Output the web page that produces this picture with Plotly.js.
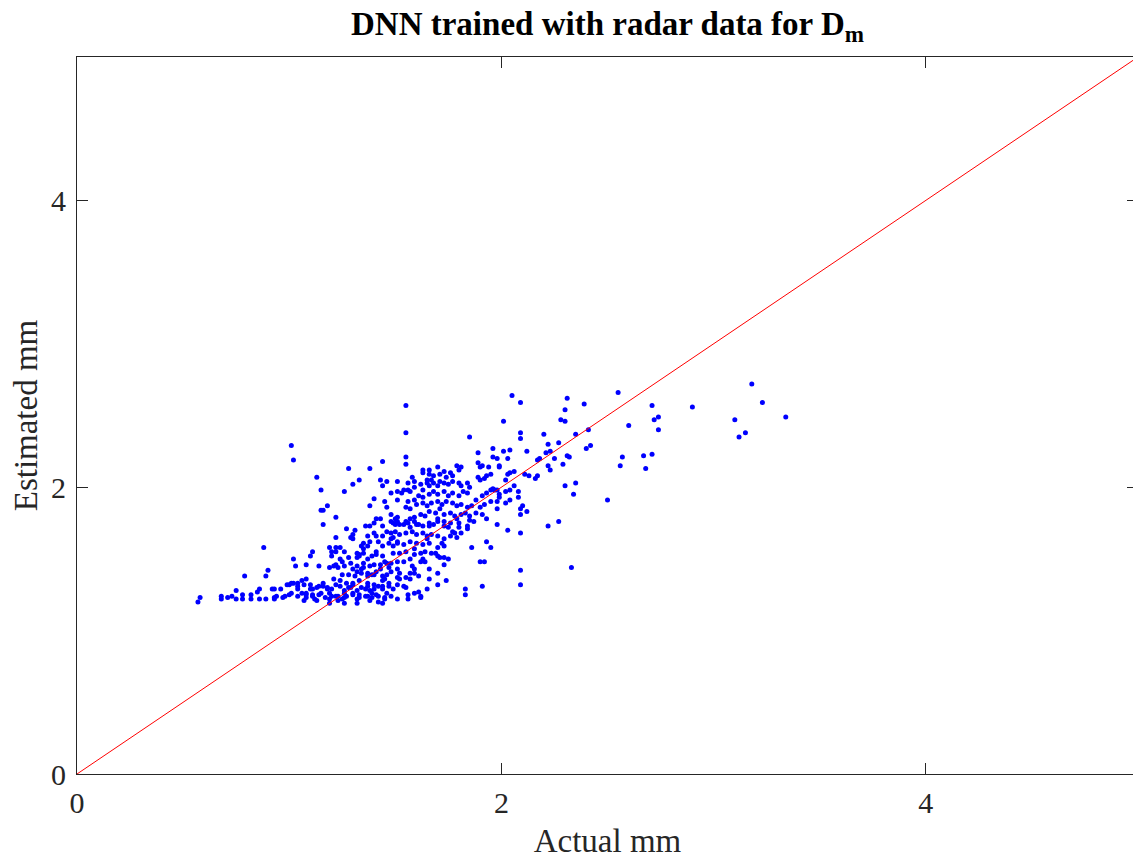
<!DOCTYPE html>
<html>
<head>
<meta charset="utf-8">
<script src="https://cdn.plot.ly/plotly-3.0.1.min.js"></script>
<style>
  html, body { margin: 0; padding: 0; overflow: hidden; background: #fff; }
  #chart { width: 1140px; height: 863px; }
</style>
</head>
<body>
<div id="chart"></div>
<script>
// Actual vs. DNN-estimated mass-weighted mean drop diameter (mm)
const actualMm = [
  3.18,3.23,3.34,3.10,3.12,3.15,2.90,2.71,2.72,2.74,
  2.74,2.67,2.71,2.68,2.55,2.60,2.57,2.56,2.50,2.41,
  2.42,2.40,2.35,2.39,2.31,2.30,2.28,2.30,2.31,2.32,
  2.29,2.30,2.35,2.34,2.33,2.05,2.09,2.01,1.85,2.20,
  2.09,2.09,2.22,2.27,2.21,2.23,2.17,2.18,2.12,2.25,
  2.22,2.23,2.11,2.13,2.17,2.16,2.06,2.04,2.01,2.03,
  1.96,1.96,1.98,1.99,1.99,1.95,1.89,1.89,1.91,1.90,
  1.89,1.90,1.92,1.94,1.93,2.02,2.03,2.04,2.08,1.98,
  1.97,1.96,1.99,2.02,2.09,2.09,1.98,2.03,2.09,2.22,
  2.27,2.09,2.09,1.93,1.95,1.90,1.92,1.86,1.83,1.83,
  1.91,1.55,1.55,1.55,1.55,1.51,1.79,1.81,1.80,1.70,
  1.73,1.76,1.77,1.74,1.71,1.66,1.65,1.63,1.63,1.58,
  1.59,1.56,1.54,1.51,1.57,1.59,1.62,1.63,1.66,1.68,
  1.70,1.71,1.73,1.75,1.77,1.80,1.81,1.84,1.85,1.84,
  1.82,1.80,1.77,1.75,1.73,1.70,1.68,1.66,1.63,1.61,
  1.59,1.56,1.55,1.57,1.60,1.63,1.65,1.67,1.70,1.72,
  1.74,1.77,1.79,1.81,1.84,1.86,1.88,1.91,1.93,1.95,
  1.99,2.02,2.04,2.06,1.95,1.92,1.90,1.88,1.85,1.83,
  1.81,1.78,1.76,1.73,1.71,1.69,1.66,1.64,1.62,1.59,
  1.57,1.55,1.52,1.50,1.48,1.98,2.04,2.08,2.10,2.12,
  1.98,1.91,1.93,1.87,1.84,1.79,1.76,1.73,1.70,1.66,
  1.63,1.60,1.57,1.49,1.51,1.54,1.56,1.59,1.61,1.66,
  1.68,1.70,1.73,1.75,1.77,1.50,1.52,1.55,1.58,1.60,
  1.63,1.65,1.67,1.70,1.48,1.51,1.54,1.57,1.60,1.63,
  1.66,1.70,1.52,1.55,1.59,1.62,1.64,1.67,1.69,1.51,
  1.54,1.57,1.62,1.64,1.71,1.73,1.75,1.73,1.66,1.59,
  1.57,1.59,1.51,1.55,1.54,1.56,1.85,1.80,1.80,1.78,
  1.79,1.73,1.73,1.70,1.65,1.61,1.62,1.56,1.81,1.84,
  1.66,1.68,1.67,1.65,1.56,1.53,1.51,1.48,1.45,1.55,
  1.59,1.62,1.74,1.52,1.57,1.61,1.66,1.70,1.65,1.72,
  1.76,1.70,1.63,1.59,1.49,1.58,1.52,1.01,1.02,1.44,
  1.28,1.38,1.13,1.33,1.30,1.43,1.46,1.44,1.15,1.26,
  1.40,1.45,1.46,1.38,1.18,1.15,1.16,1.22,1.41,1.43,
  1.40,1.44,1.16,1.36,1.38,1.27,1.31,1.30,1.29,1.22,
  1.30,1.35,1.34,1.44,1.41,1.42,1.19,1.20,1.20,1.22,
  1.22,1.11,1.10,1.02,0.88,1.03,1.08,1.14,0.90,0.89,
  0.79,0.75,0.86,0.85,0.92,0.58,0.57,0.68,0.68,0.71,
  0.73,0.75,0.78,0.78,0.82,0.82,0.86,0.89,0.93,0.94,
  0.98,1.00,1.00,1.02,1.04,1.07,1.04,1.06,1.08,1.08,
  1.11,1.12,1.10,1.13,1.15,1.16,1.18,1.19,1.19,1.22,
  1.23,1.26,1.25,1.27,1.29,1.30,1.32,1.33,1.36,1.37,
  1.39,1.41,1.44,1.45,1.46,1.42,1.21,1.23,1.26,1.29,
  1.32,1.35,1.38,1.43,1.46,1.25,1.28,1.31,1.34,1.37,
  1.40,1.44,1.21,1.24,1.27,1.30,1.33,1.37,1.40,1.44,
  1.47,1.33,1.35,1.39,1.41,1.37,1.32,1.28,1.24,1.44,
  1.47,1.37,1.35,1.38,1.40,1.44,1.46,1.48,1.50,1.51,
  1.48,1.41,1.47,1.49,1.51,1.49,1.48,1.45,1.43,1.40,
  1.37,1.35,1.33,1.32,1.26,1.24,1.19,1.22,1.25,1.30,
  1.32,1.34,1.37,1.39,1.41,1.46,1.48,1.51,0.99,1.01,
  1.04,1.06,1.08,1.10,1.11,1.14,1.16,1.18,1.20,1.22,
  1.24,1.26,1.28,1.30,1.32,1.34,1.37,1.38,1.40,1.42,
  1.44,1.47,1.49,1.51,1.01,1.04,1.08,1.11,1.14,1.17,
  1.20,1.23,1.26,1.30,1.33,1.36,1.39,1.42,1.45,1.48,
  1.51,1.07,1.13,1.19,1.26,1.32,1.38,1.44,0.93,0.97,
  0.93,0.96
];

const estimatedMm = [
  2.72,2.59,2.49,2.47,2.35,2.38,2.56,2.57,2.47,2.49,
  2.40,2.22,2.23,2.13,2.66,2.43,2.21,2.15,1.91,2.40,
  2.29,2.27,2.37,2.58,2.62,2.54,2.47,2.46,2.22,2.21,
  2.16,2.01,2.03,1.95,1.44,2.64,2.59,2.46,2.35,2.37,
  2.38,2.34,2.30,2.31,2.24,2.25,2.19,2.20,2.25,2.20,
  2.15,2.12,2.09,2.08,2.08,2.06,2.11,2.26,2.25,2.20,
  2.27,2.21,2.20,2.15,2.14,2.09,2.24,2.17,2.15,2.14,
  2.07,2.05,2.06,2.14,2.08,2.05,2.09,2.10,1.97,1.98,
  1.98,1.99,1.93,1.89,1.85,1.81,1.74,1.70,1.68,1.73,
  1.76,1.42,1.32,1.62,1.58,1.48,1.48,1.58,1.29,1.25,
  1.31,2.57,2.38,2.21,2.16,2.04,2.15,2.14,2.12,2.14,
  2.11,2.10,2.08,2.07,2.09,2.09,2.05,2.10,2.12,2.07,
  2.04,2.03,1.98,1.91,1.97,2.00,2.02,1.98,2.01,2.03,
  2.01,2.04,2.03,2.02,2.04,2.03,2.01,2.03,2.00,1.96,
  1.97,1.94,1.96,1.94,1.97,1.95,1.97,1.95,1.93,1.94,
  1.91,1.90,1.86,1.85,1.88,1.89,1.87,1.89,1.90,1.88,
  1.90,1.89,1.87,1.88,1.86,1.87,1.91,1.94,1.96,1.98,
  1.95,1.97,1.98,2.01,1.90,1.88,1.86,1.82,1.80,1.82,
  1.81,1.80,1.82,1.81,1.85,1.82,1.83,1.80,1.81,1.79,
  1.78,1.76,1.74,1.78,1.81,1.90,1.91,1.93,1.87,1.83,
  1.85,1.81,1.78,1.76,1.73,1.78,1.75,1.76,1.78,1.75,
  1.73,1.74,1.72,1.75,1.76,1.74,1.75,1.76,1.74,1.73,
  1.74,1.76,1.73,1.72,1.69,1.69,1.67,1.68,1.69,1.67,
  1.68,1.66,1.67,1.66,1.64,1.61,1.60,1.62,1.61,1.60,
  1.61,1.58,1.54,1.55,1.53,1.54,1.55,1.54,1.54,1.48,
  1.48,1.50,1.48,1.48,1.51,1.51,1.50,1.46,1.43,1.43,
  1.40,1.40,1.37,1.37,1.31,1.22,1.77,1.75,1.72,1.68,
  1.65,1.64,1.59,1.32,1.29,1.27,1.24,1.25,1.68,1.71,
  2.12,2.08,2.05,2.03,1.98,1.96,1.97,1.96,1.36,1.30,
  1.26,1.23,1.35,1.36,1.36,1.38,1.36,1.40,1.64,1.61,
  1.66,1.52,1.50,1.57,1.59,1.45,1.40,2.29,2.19,2.18,
  2.13,2.13,2.07,2.05,2.02,2.05,2.04,2.01,1.98,1.97,
  1.92,1.90,1.86,1.87,1.87,1.84,1.84,1.79,1.78,1.78,
  1.75,1.73,1.74,1.73,1.73,1.71,1.70,1.67,1.65,1.65,
  1.64,1.61,1.59,1.59,1.66,1.62,1.58,1.55,1.52,1.58,
  1.55,1.55,1.52,1.50,1.58,1.45,1.46,1.45,1.42,1.38,
  1.38,1.28,1.29,1.27,1.29,1.23,1.20,1.24,1.22,1.23,
  1.24,1.22,1.22,1.25,1.25,1.22,1.22,1.22,1.22,1.24,
  1.24,1.25,1.32,1.33,1.33,1.32,1.29,1.26,1.26,1.23,
  1.25,1.22,1.29,1.30,1.26,1.31,1.29,1.26,1.22,1.24,
  1.21,1.26,1.22,1.24,1.30,1.26,1.22,1.25,1.29,1.24,
  1.26,1.25,1.31,1.22,1.26,1.20,1.45,1.44,1.45,1.47,
  1.45,1.44,1.45,1.46,1.47,1.39,1.39,1.38,1.40,1.38,
  1.39,1.38,1.36,1.35,1.33,1.33,1.35,1.33,1.32,1.35,
  1.33,1.53,1.54,1.52,1.53,1.59,1.51,1.51,1.50,1.52,
  1.44,1.66,1.57,1.62,1.68,1.66,1.69,1.68,1.74,1.79,
  1.76,1.55,1.61,1.65,1.62,1.54,1.47,1.48,1.43,1.46,
  1.50,1.47,1.52,1.54,1.55,1.58,1.44,1.46,1.48,1.43,
  1.41,1.43,1.40,1.39,1.41,1.39,1.41,1.43,1.32,1.33,
  1.31,1.35,1.36,1.32,1.29,1.31,1.33,1.30,1.29,1.32,
  1.31,1.28,1.30,1.32,1.28,1.30,1.31,1.28,1.29,1.31,
  1.29,1.31,1.29,1.32,1.26,1.24,1.25,1.24,1.25,1.23,
  1.24,1.24,1.23,1.25,1.23,1.24,1.23,1.24,1.23,1.24,
  1.22,1.21,1.21,1.19,1.19,1.19,1.21,1.19,1.23,1.23,
  1.29,1.29
];

// 1:1 reference line endpoints (mm)
const identityLine = [0, 5];

// Axis ticks
const tickValues = [0, 2, 4];
const tickLabels = ['0', '2', '4'];

const serif = '"Liberation Serif", "Times New Roman", Times, serif';
const ink = '#262626';

const axisCommon = {
  range: [0, 5],
  tickmode: 'array',
  tickvals: tickValues,
  ticktext: tickLabels,
  ticks: 'inside',
  ticklen: 11,
  tickwidth: 1,
  tickcolor: ink,
  showline: true,
  linecolor: ink,
  linewidth: 1,
  mirror: 'ticks',
  showgrid: false,
  zeroline: false,
  fixedrange: true,
  tickfont: { family: serif, size: 30, color: ink }
};

const traces = [
  {
    type: 'scatter',
    mode: 'markers',
    x: actualMm,
    y: estimatedMm,
    marker: { color: '#0000ff', size: 5, line: { width: 0 } },
    cliponaxis: true,
    hoverinfo: 'skip'
  },
  {
    type: 'scatter',
    mode: 'lines',
    x: identityLine,
    y: identityLine,
    line: { color: '#ff0000', width: 1 },
    hoverinfo: 'skip'
  }
];

const layout = {
  width: 1140,
  height: 863,
  margin: { l: 77, r: 2, t: 57, b: 89, pad: 0 },
  paper_bgcolor: '#ffffff',
  plot_bgcolor: '#ffffff',
  showlegend: false,
  title: {
    text: '<b>DNN trained with radar data for D<sub>m</sub></b>',
    font: { family: serif, size: 33, color: '#000000' },
    x: 0.5,
    xref: 'paper',
    xanchor: 'center',
    y: 0.986,
    yref: 'container',
    yanchor: 'top'
  },
  xaxis: Object.assign({}, axisCommon, {
    title: { text: 'Actual mm', font: { family: serif, size: 33, color: ink }, standoff: 10 },
    ticklabelstandoff: 2
  }),
  yaxis: Object.assign({}, axisCommon, {
    title: { text: 'Estimated mm', font: { family: serif, size: 33, color: ink }, standoff: 3 },
    ticklabelstandoff: 4
  })
};

Plotly.newPlot('chart', traces, layout, { staticPlot: true, displayModeBar: false });
</script>
</body>
</html>
